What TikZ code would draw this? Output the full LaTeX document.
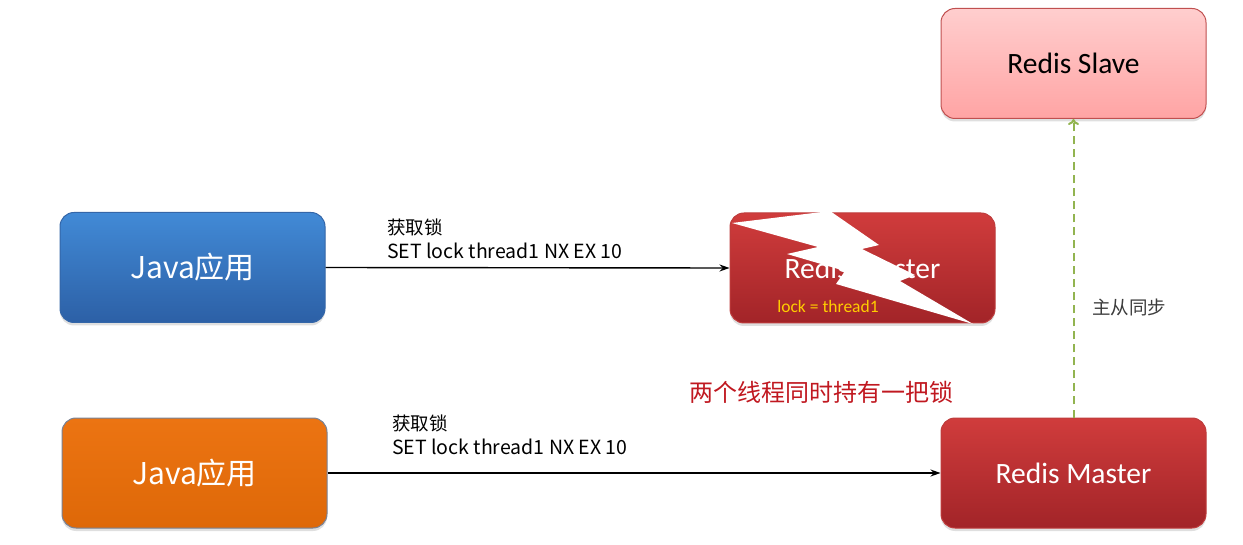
\documentclass[tikz,border=0pt]{standalone}
\usepackage{fontspec}
\setmainfont{Carlito}
\newfontfamily\cjk{Noto Sans CJK SC}
\usetikzlibrary{arrows.meta,shadows}
\definecolor{bluetop}{RGB}{66,138,214}
\definecolor{bluebot}{RGB}{44,96,166}
\definecolor{blueline}{RGB}{52,102,168}
\definecolor{orgtop}{RGB}{236,116,18}
\definecolor{orgbot}{RGB}{222,104,8}
\definecolor{orgline}{RGB}{120,130,150}
\definecolor{redtop}{RGB}{208,60,60}
\definecolor{redbot}{RGB}{162,36,40}
\definecolor{redline}{RGB}{190,60,60}
\definecolor{pinktop}{RGB}{255,206,206}
\definecolor{pinkbot}{RGB}{255,164,164}
\definecolor{pinkline}{RGB}{192,80,80}
\definecolor{syncgreen}{RGB}{146,180,80}
\definecolor{lockyellow}{RGB}{255,204,0}
\definecolor{warnred}{RGB}{192,24,32}
\definecolor{labgray}{RGB}{60,60,60}
\tikzset{
  box/.style={rounded corners=14pt, minimum width=265pt, minimum height=110pt,
    inner sep=0pt, line width=1pt,
    drop shadow={shadow xshift=0pt, shadow yshift=-3pt, opacity=0.25}},
  javabox/.style={box, top color=bluetop, bottom color=bluebot, draw=blueline,
    text=white, font=\cjk\fontsize{30}{36}\selectfont},
  javabox2/.style={box, top color=orgtop, bottom color=orgbot, draw=orgline,
    text=white, font=\cjk\fontsize{30}{36}\selectfont},
  masterbox/.style={box, top color=redtop, bottom color=redbot, draw=redline,
    text=white, font=\fontsize{29.5}{34}\selectfont},
  slavebox/.style={box, top color=pinktop, bottom color=pinkbot, draw=pinkline,
    text=black, font=\fontsize{29.5}{34}\selectfont},
  reqarrow/.style={line width=1.4pt, -{Stealth[length=10pt,width=7pt]}},
  syncarrow/.style={draw=syncgreen, line width=2pt, dash pattern=on 8pt off 5pt,
    -{To[length=6pt,width=11pt]}},
  reqlabel/.style={inner sep=0pt, align=left, anchor=north west,
    font=\cjk\fontsize{18.5}{24}\selectfont},
}
\begin{document}
\begin{tikzpicture}[x=1pt,y=-1pt]
\useasboundingbox (0,0) rectangle (1243,545);
\node[javabox] (j1) at (192.5,267.5) {Java应用};
\node[javabox2] (j2) at (194.5,473) {Java应用};
\node[masterbox] (m1) at (862.5,268) {Redis Master};
\node[font=\fontsize{17.5}{20}\selectfont, text=lockyellow, inner sep=0pt] (lk) at (828,306) {lock = thread1};
\fill[white] (732,223) -- (830,211) -- (879,245) -- (862,249) -- (915,275)
  -- (900,281) -- (973,324) -- (836,284) -- (845,271) -- (787,254)
  -- (818,247) -- cycle;
\node[slavebox] (s) at (1073.5,63.5) {Redis Slave};
\node[masterbox] (m2) at (1073.5,473) {Redis Master};
\draw[reqarrow] (j1.east) -- (m1.west);
\draw[reqarrow] (j2.east) -- (m2.west);
\draw[syncarrow] (m2.north) -- (s.south);
\node[reqlabel] (l1) at (387,219) {获取锁\\{\fontsize{19.5}{24}\selectfont SET lock thread1 NX EX 10}};
\node[reqlabel] (l2) at (392,415) {获取锁\\{\fontsize{19.5}{24}\selectfont SET lock thread1 NX EX 10}};
\node[font=\cjk\fontsize{18.5}{22}\selectfont, text=labgray] (sync) at (1129,307) {主从同步};
\node[font=\cjk\fontsize{24}{28}\selectfont, text=warnred] (warn) at (821,392) {两个线程同时持有一把锁};
\end{tikzpicture}
\end{document}
